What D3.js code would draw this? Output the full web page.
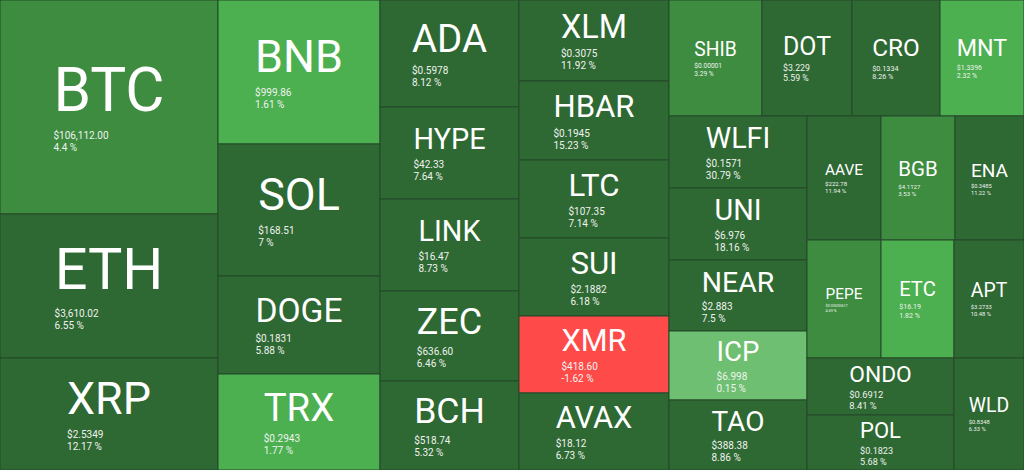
<!DOCTYPE html>
<html><head><meta charset="utf-8">
<script src="https://cdn.jsdelivr.net/npm/d3@7"></script>
<style>html,body{margin:0;padding:0;background:#fff;overflow:hidden}svg{display:block;font-family:Roboto,sans-serif}</style>
</head><body><svg id="chart" width="1024" height="470"></svg>
<script>
const tickers = ["BTC","ETH","XRP","BNB","SOL","DOGE","TRX","ADA","HYPE","LINK","ZEC","BCH","XLM","HBAR","LTC","SUI","XMR","AVAX","SHIB","DOT","CRO","MNT","WLFI","UNI","NEAR","ICP","TAO","AAVE","BGB","ENA","PEPE","ETC","APT","ONDO","POL","WLD"];
const weights = [46652,31392,24416,23328,21384,15876,15552,14873,12788,12788,12510,12371,12150,11850,11700,11700,11550,11550,10788,10440,10208,9744,9936,9936,9798,9522,9660,9176,9176,8556,8732,8614,8260,8379,8085,7840];
const prices = ["$106,112.00","$3,610.02","$2.5349","$999.86","$168.51","$0.1831","$0.2943","$0.5978","$42.33","$16.47","$636.60","$518.74","$0.3075","$0.1945","$107.35","$2.1882","$418.60","$18.12","$0.00001","$3.229","$0.1334","$1.3396","$0.1571","$6.976","$2.883","$6.998","$388.38","$222.78","$4.1127","$0.3485","$0.00000617","$16.19","$3.2733","$0.6912","$0.1823","$0.8348"];
const changes = [4.4,6.55,12.17,1.61,7,5.88,1.77,8.12,7.64,8.73,6.46,5.32,11.92,15.23,7.14,6.18,-1.62,6.73,3.29,5.59,8.26,2.32,30.79,18.16,7.5,0.15,8.86,11.94,3.53,11.22,4.69,1.82,10.48,8.41,5.68,6.33];

const W = 1024, H = 470;
const svg = d3.select("#chart");

const color = d3.scaleThreshold()
  .domain([0, 1, 3, 5])
  .range(["#ff4a4a", "#6ebf71", "#4caf50", "#3d8c40", "#2e6833"]);

const data = {name: "root", children: tickers.map((t, i) => ({
  name: t, value: weights[i], price: prices[i], change: changes[i]
}))};

const root = d3.hierarchy(data).sum(d => d.value || 0);
d3.treemap().tile(d3.treemapSquarify).size([W, H]).round(false)(root);

// text measuring helper
const meas = svg.append("text").attr("x", -1000).attr("y", -1000).style("font-size", "100px");
function textW(str) {
  meas.text(str);
  return meas.node().getComputedTextLength() / 100;
}

const leaves = root.leaves();
const g = svg.selectAll("g.tile").data(leaves).join("g").attr("class", "tile");

g.append("rect")
  .attr("x", d => d.x0).attr("y", d => d.y0)
  .attr("width", d => d.x1 - d.x0).attr("height", d => d.y1 - d.y0)
  .attr("fill", d => color(d.data.change))
  .attr("stroke", "#25482a").attr("stroke-width", 1);

g.each(function(d) {
  const w = d.x1 - d.x0, h = d.y1 - d.y0;
  const cx = (d.x0 + d.x1) / 2, cy = (d.y0 + d.y1) / 2;
  const lw = textW(d.data.name);
  const fs = Math.min(0.83 * w / d.data.name.length, 0.4 * h);
  const pct = d.data.change + " %";
  const sw = Math.max(textW(d.data.price), textW(pct));
  const sfs = Math.min(10, 0.3 * w / sw, 0.165 * h);
  const blockH = 1.1 * fs + 2.2 * sfs;
  const base = cy - blockH / 2 + 0.8 * fs;
  const labelW = lw * fs;
  const left = cx - labelW / 2;
  const sel = d3.select(this);
  sel.append("text")
    .attr("x", cx).attr("y", base)
    .attr("text-anchor", "middle")
    .attr("fill", "#ffffff")
    .style("font-size", fs + "px")
    .text(d.data.name);
  const p1 = base + 0.3 * fs + sfs;
  sel.append("text")
    .attr("x", left).attr("y", p1)
    .attr("fill", "#eef3ee")
    .style("font-size", sfs + "px")
    .text(d.data.price);
  sel.append("text")
    .attr("x", left).attr("y", p1 + 1.2 * sfs)
    .attr("fill", "#eef3ee")
    .style("font-size", sfs + "px")
    .text(pct);
});
meas.remove();
</script>
</body></html>
